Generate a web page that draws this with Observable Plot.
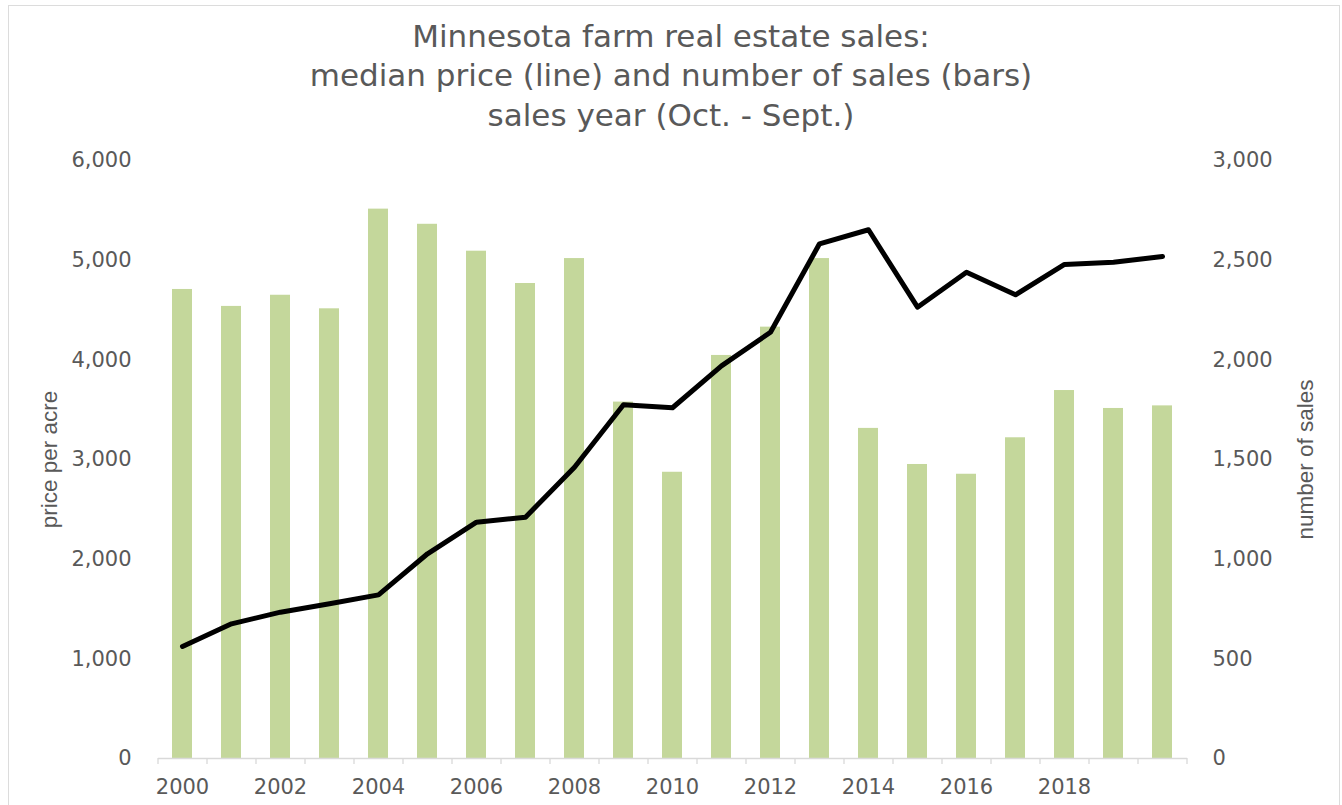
<!DOCTYPE html>
<html>
<head>
<meta charset="utf-8">
<script src="https://cdn.jsdelivr.net/npm/d3@7"></script>
<script src="https://cdn.jsdelivr.net/npm/@observablehq/plot@0.6"></script>
<style>
  html, body { margin: 0; padding: 0; background: #fff; overflow: hidden; width: 1342px; height: 805px; }
  #frame { position: absolute; left: 8px; top: 5px; width: 1332px; height: 830px; border: 1px solid #dcdcdc; box-sizing: border-box; }
  #title { position: absolute; left: 0; top: 16.5px; width: 1342px; text-align: center;
           font-family: "DejaVu Sans", Verdana, sans-serif; font-size: 31px; line-height: 39.5px; color: #595959; }
  #chart { position: absolute; left: 0; top: 140px; }
</style>
</head>
<body>
<div id="frame"></div>
<div id="title">
  <div>Minnesota farm real estate sales:</div>
  <div>median price (line) and number of sales (bars)</div>
  <div>sales year (Oct. - Sept.)</div>
</div>
<div id="chart"></div>
<script>
// ---- data ----
const years = [2000, 2001, 2002, 2003, 2004, 2005, 2006, 2007, 2008, 2009, 2010,
               2011, 2012, 2013, 2014, 2015, 2016, 2017, 2018, 2019, 2020];
const medianPrice = [1124, 1351, 1468, 1552, 1642, 2054, 2371, 2421, 2923, 3549, 3519,
                     3940, 4277, 5164, 5305, 4528, 4879, 4652, 4957, 4980, 5037];
const numberOfSales = [2353, 2268, 2324, 2256, 2756, 2680, 2545, 2383, 2508, 1788, 1436,
                       2022, 2164, 2508, 1656, 1475, 1426, 1609, 1846, 1756, 1769];
const priceTicks = [0, 1000, 2000, 3000, 4000, 5000, 6000];
const salesTicks = [0, 500, 1000, 1500, 2000, 2500, 3000];
const yearLabels = [2000, 2002, 2004, 2006, 2008, 2010, 2012, 2014, 2016, 2018];
const leftTitle = "price per acre";
const rightTitle = "number of sales";

// ---- layout ----
const W = 1342, H = 665;
const mL = 158, mR = 155, mT = 20, mB = 47;
const priceMax = 6000, salesMax = 3000;
const ratio = priceMax / salesMax;
const step = (W - mL - mR) / years.length;

const data = years.map((year, i) => ({year, price: medianPrice[i], sales: numberOfSales[i]}));
const fmt = d3.format(",");
const tickFont = "'DejaVu Sans', Verdana, sans-serif";
const titleFont = "'Liberation Sans Narrow', 'Arial Narrow', 'Liberation Sans', Arial, sans-serif";
const gray = "#595959";

const chart = Plot.plot({
  width: W, height: H,
  marginLeft: mL, marginRight: mR, marginTop: mT, marginBottom: mB,
  style: {fontFamily: tickFont, fontSize: "21px", color: gray, background: "transparent", overflow: "visible"},
  x: {type: "band", domain: years, paddingInner: 0.59, paddingOuter: 0.295, axis: null},
  y: {domain: [0, priceMax], axis: null},
  marks: [
    Plot.barY(data, {x: "year", y: d => d.sales * ratio, fill: "#c4d79b"}),
    Plot.ruleY([0], {stroke: "#d9d9d9", strokeWidth: 1.3}),
    Plot.ruleX(years, {x: d => d, y1: 0, y2: 0, insetBottom: -6, dx: -step / 2, stroke: "#d9d9d9", strokeWidth: 1.3}),
    Plot.ruleX([years[years.length - 1]], {x: d => d, y1: 0, y2: 0, insetBottom: -6, dx: step / 2, stroke: "#d9d9d9", strokeWidth: 1.3}),
    Plot.line(data, {x: "year", y: "price", stroke: "#000", strokeWidth: 5, strokeLinejoin: "round", strokeLinecap: "round"}),
    // left axis labels
    Plot.text(priceTicks, {y: d => d, frameAnchor: "left", textAnchor: "end", lineAnchor: "middle", dx: -27, text: d => fmt(d),
      fill: gray, fontSize: 21, fontFamily: tickFont}),
    // right axis labels (sales, mapped onto price scale)
    Plot.text(salesTicks, {y: d => d * ratio, frameAnchor: "right", textAnchor: "start", lineAnchor: "middle", dx: 25, text: d => fmt(d),
      fill: gray, fontSize: 21, fontFamily: tickFont}),
    // x labels
    Plot.text(yearLabels, {x: d => d, frameAnchor: "bottom", lineAnchor: "middle", textAnchor: "middle", dy: 29, text: d => String(d),
      fill: gray, fontSize: 21, fontFamily: tickFont}),
    // axis titles
    Plot.text([leftTitle], {frameAnchor: "left", textAnchor: "middle", lineAnchor: "middle", rotate: -90, dx: -109, text: d => d,
      fill: gray, fontSize: 22.5, fontFamily: titleFont}),
    Plot.text([rightTitle], {frameAnchor: "right", textAnchor: "middle", lineAnchor: "middle", rotate: -90, dx: 118, text: d => d,
      fill: gray, fontSize: 22.5, fontFamily: titleFont})
  ]
});
document.getElementById("chart").appendChild(chart);
</script>
</body>
</html>
